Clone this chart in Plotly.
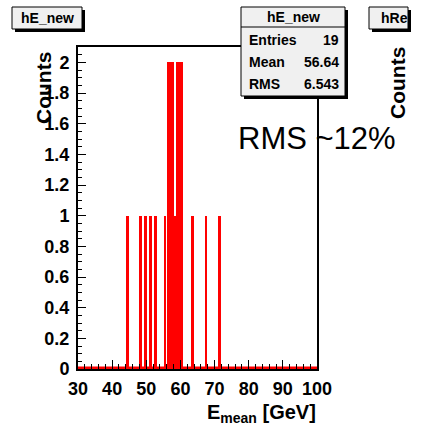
import plotly.graph_objects as go

# ---- data ----
bin_centers = [44.5, 48.3, 49.7, 51.3, 52.7, 55.5, 56.5, 57.5, 58.5, 59.2, 60.2, 63.5, 67.5, 71.5]
bin_counts = [1, 1, 1, 1, 1, 1, 2, 2, 1, 2, 2, 1, 1, 1]
bin_width = 1.0
x_range = [30, 100]
y_range = [0, 2.1]
stats_labels = ["Entries", "Mean", "RMS"]
stats_values = ["19", "56.64", "6.543"]
hist_name = "hE_new"

W, H = 424, 429
L, R, T, B = 78, 317, 47, 369  # plot area pixels


def px(x):
    return (x - L) / (R - L)


def py(y):
    return (B - y) / (B - T)


FONT = "Liberation Sans"

# adjacent bins with equal height are drawn merged, isolated bins slightly narrower
widths = []
for i, (c, n) in enumerate(zip(bin_centers, bin_counts)):
    merged = any(abs(abs(c2 - c) - bin_width) < 1e-6 and n2 == n
                 for j, (c2, n2) in enumerate(zip(bin_centers, bin_counts)) if j != i)
    widths.append(bin_width if merged else bin_width * 0.8)

fig = go.Figure()
fig.add_trace(go.Bar(
    x=bin_centers, y=bin_counts, width=widths,
    marker=dict(color="#ff0000", line=dict(width=0)), showlegend=False,
))
fig.add_trace(go.Scatter(
    x=x_range, y=[0, 0], mode="lines", line=dict(color="#ff0000", width=5),
    showlegend=False, hoverinfo="skip",
))

shapes = []
annotations = []


def box(x0, y0, x1, y1, fill="#f0f0f0", shadow=3):
    shapes.append(dict(type="rect", xref="paper", yref="paper",
                       x0=px(x0 + shadow), x1=px(x1 + shadow),
                       y0=py(y0 + shadow), y1=py(y1 + shadow),
                       fillcolor="black", line=dict(width=0), layer="above"))
    shapes.append(dict(type="rect", xref="paper", yref="paper",
                       x0=px(x0), x1=px(x1), y0=py(y0), y1=py(y1),
                       fillcolor=fill, line=dict(color="black", width=1), layer="above"))


def text(s, x, y, size=14, xanchor="center", bold=True, angle=0, yanchor="middle"):
    annotations.append(dict(text=s, xref="paper", yref="paper", x=px(x), y=py(y),
                            xanchor=xanchor, yanchor=yanchor, showarrow=False, textangle=angle,
                            font=dict(family=FONT, size=size, color="black",
                                      weight="bold" if bold else "normal")))


# title pave
box(12, 7, 82, 29)
text(hist_name, 47, 18)
# neighbouring pad title (cut off at the canvas edge)
box(369, 7, 408, 29)
text("hRe", 379, 18, xanchor="left")
# stats box
box(241, 7, 345, 96)
shapes.append(dict(type="line", xref="paper", yref="paper", x0=px(241), x1=px(345),
                   y0=py(27), y1=py(27), line=dict(color="black", width=1), layer="above"))
text(hist_name, 293, 17)
for i, (lab, val) in enumerate(zip(stats_labels, stats_values)):
    yy = 40 + i * 22
    text(lab, 247, yy, xanchor="left")
    text(val, 341, yy, xanchor="right")

# axis titles
text("Counts", 44, 88, size=21, angle=-90)
text("Counts", 397, 83, size=21, angle=-90)
text("E<sub>mean</sub> [GeV]", 318, 413, size=20, xanchor="right")
# big annotation
text("RMS ~12%", 236, 138, size=31, xanchor="left", bold=False)

fig.update_layout(
    width=W, height=H,
    margin=dict(l=L, r=W - R, t=T, b=H - B, pad=0),
    paper_bgcolor="white", plot_bgcolor="white",
    bargap=0, shapes=shapes, annotations=annotations,
    showlegend=False,
)
fig.update_xaxes(
    range=x_range, dtick=10, tick0=30, ticks="inside", ticklen=9, tickwidth=1, tickcolor="black",
    showline=True, mirror=True, linecolor="black", linewidth=2, showgrid=False, zeroline=False,
    tickfont=dict(family=FONT, size=18, color="black", weight="bold"), ticklabelstandoff=2,
    minor=dict(dtick=2, ticks="inside", ticklen=5, tickcolor="black", showgrid=False),
)
fig.update_yaxes(
    range=y_range, dtick=0.2, tick0=0, ticks="inside", ticklen=8, tickwidth=1, tickcolor="black",
    showline=True, mirror=True, linecolor="black", linewidth=2, showgrid=False, zeroline=False,
    tickfont=dict(family=FONT, size=18, color="black", weight="bold"), ticklabelstandoff=3,
    minor=dict(dtick=0.05, ticks="inside", ticklen=4, tickcolor="black", showgrid=False),
)

fig.write_html("out.html")
